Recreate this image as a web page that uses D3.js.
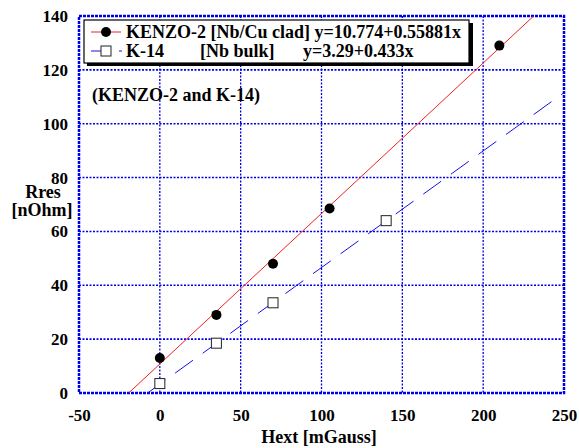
<!DOCTYPE html>
<html>
<head>
<meta charset="utf-8">
<script src="https://cdn.jsdelivr.net/npm/d3@7"></script>
<style>
  body { margin: 0; background: white; }
  svg text { font-family: "Liberation Serif", "Times New Roman", serif; font-weight: bold; }
</style>
</head>
<body>
<svg id="chart"></svg>
<script>
// KENZO-2 [Nb/Cu clad]
const kenzoX = [0, 35, 70, 105, 210];
const kenzoY = [13, 29, 48, 68.5, 129];
// K-14 [Nb bulk]
const k14X = [0, 35, 70, 140];
const k14Y = [3.5, 18.5, 33.5, 64];
// fit coefficients (intercept, slope)
const kenzoFit = [10.774, 0.55881];
const k14Fit = [3.29, 0.433];

const xTicks = [-50, 0, 50, 100, 150, 200, 250];
const yTicks = [0, 20, 40, 60, 80, 100, 120, 140];

const width = 579, height = 448;
const margin = { top: 16, right: 15, bottom: 55, left: 79 };
const innerW = width - margin.left - margin.right;
const innerH = height - margin.top - margin.bottom;

const svg = d3.select("#chart").attr("width", width).attr("height", height);
const g = svg.append("g").attr("transform", `translate(${margin.left},${margin.top})`);

const xScale = d3.scaleLinear().domain([-50, 250]).range([0, innerW]);
const yScale = d3.scaleLinear().domain([0, 140]).range([innerH, 0]);

const blue = "#0000e6";

// grid
g.append("g").selectAll("line").data(xTicks.slice(1, -1)).enter().append("line")
  .attr("x1", d => xScale(d)).attr("x2", d => xScale(d))
  .attr("y1", 0).attr("y2", innerH)
  .style("stroke", blue).style("stroke-width", 1.3).style("stroke-dasharray", "2,1.5");
g.append("g").selectAll("line").data(yTicks.slice(1, -1)).enter().append("line")
  .attr("y1", d => yScale(d)).attr("y2", d => yScale(d))
  .attr("x1", 0).attr("x2", innerW)
  .style("stroke", blue).style("stroke-width", 1.6).style("stroke-dasharray", "2,1.5");

// frame
g.append("rect").attr("x", 0).attr("y", 0).attr("width", innerW).attr("height", innerH)
  .style("fill", "none").style("stroke", blue).style("stroke-width", 2.5)
  .style("stroke-dasharray", "3,1");

// tick labels via axes
const xAxis = d3.axisBottom(xScale).tickValues(xTicks).tickSize(0).tickPadding(16).tickFormat(d => String(d));
const xg = g.append("g").attr("transform", `translate(0,${innerH})`).call(xAxis);
xg.attr("font-family", null);
xg.select(".domain").remove();
xg.selectAll("text").style("font-size", "17px").style("fill", "#000");

const yAxis = d3.axisLeft(yScale).tickValues(yTicks).tickSize(0).tickPadding(11).tickFormat(d => String(d));
const yg = g.append("g").call(yAxis);
yg.attr("font-family", null);
yg.select(".domain").remove();
yg.selectAll("text").style("font-size", "17px").style("fill", "#000");

// axis titles
svg.append("text").attr("x", 319).attr("y", 443)
  .attr("text-anchor", "middle").style("font-size", "18px").text("Hext [mGauss]");
svg.append("text").attr("x", 43).attr("y", 198)
  .attr("text-anchor", "middle").style("font-size", "18px").text("Rres");
svg.append("text").attr("x", 42).attr("y", 216)
  .attr("text-anchor", "middle").style("font-size", "18px").text("[nOhm]");

// fit lines
g.append("clipPath").attr("id", "clip").append("rect")
  .attr("width", innerW).attr("height", innerH);
const fitLine = (fit, x0, x1) => [[x0, fit[0] + fit[1] * x0], [x1, fit[0] + fit[1] * x1]];
const line = d3.line().x(d => xScale(d[0])).y(d => yScale(d[1]));

g.append("path").datum(fitLine(kenzoFit, -kenzoFit[0] / kenzoFit[1], 250))
  .attr("clip-path", "url(#clip)")
  .attr("d", line).style("fill", "none").style("stroke", "#ee2222").style("stroke-width", 1);
g.append("path").datum(fitLine(k14Fit, -k14Fit[0] / k14Fit[1], 250))
  .attr("clip-path", "url(#clip)")
  .attr("d", line).style("fill", "none").style("stroke", "#1111ee").style("stroke-width", 1)
  .style("stroke-dasharray", "22,12");

// markers
g.selectAll("circle.kenzo").data(kenzoX).enter().append("circle")
  .attr("class", "kenzo")
  .attr("cx", d => xScale(d)).attr("cy", (d, i) => yScale(kenzoY[i]))
  .attr("r", 5).style("fill", "#000");
g.selectAll("rect.k14").data(k14X).enter().append("rect")
  .attr("class", "k14")
  .attr("x", d => xScale(d) - 5).attr("y", (d, i) => yScale(k14Y[i]) - 5)
  .attr("width", 10).attr("height", 10)
  .style("fill", "white").style("stroke", "#222").style("stroke-width", 1);

// legend box with shadow
const lg = svg.append("g");
lg.append("rect").attr("x", 87).attr("y", 23).attr("width", 386).attr("height", 43).style("fill", "#000");
lg.append("rect").attr("x", 84).attr("y", 20).attr("width", 385).attr("height", 43)
  .style("fill", "white").style("stroke", "#000").style("stroke-width", 1.2);

lg.append("line").attr("x1", 91).attr("x2", 121).attr("y1", 32).attr("y2", 32)
  .style("stroke", "#ee2222").style("stroke-width", 1);
lg.append("circle").attr("cx", 106).attr("cy", 32).attr("r", 5).style("fill", "#000");
lg.append("line").attr("x1", 91).attr("x2", 101).attr("y1", 51).attr("y2", 51)
  .style("stroke", "#1111ee").style("stroke-width", 1);
lg.append("line").attr("x1", 119).attr("x2", 122).attr("y1", 51).attr("y2", 51)
  .style("stroke", "#1111ee").style("stroke-width", 1);
lg.append("rect").attr("x", 101).attr("y", 46).attr("width", 10).attr("height", 10)
  .style("fill", "white").style("stroke", "#222").style("stroke-width", 1);

lg.append("text").attr("x", 126).attr("y", 38).style("font-size", "18px")
  .text("KENZO-2 [Nb/Cu clad] y=10.774+0.55881x");
lg.append("text").attr("x", 126).attr("y", 57).style("font-size", "18px").text("K-14");
lg.append("text").attr("x", 200).attr("y", 57).style("font-size", "18px").text("[Nb bulk]");
lg.append("text").attr("x", 303).attr("y", 57).style("font-size", "18px").text("y=3.29+0.433x");

svg.append("text").attr("x", 92).attr("y", 101).style("font-size", "18px")
  .text("(KENZO-2 and K-14)");
</script>
</body>
</html>
